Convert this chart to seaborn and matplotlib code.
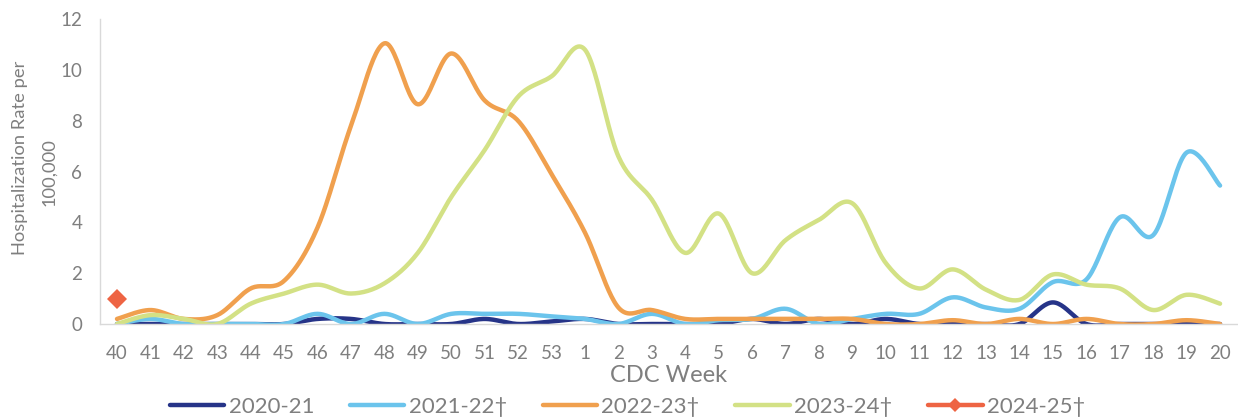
import numpy as np
import pandas as pd
import seaborn as sns
import matplotlib.pyplot as plt
from matplotlib.lines import Line2D

# CDC weeks 40..53, then 1..20
weeks = [str(w) for w in list(range(40, 54)) + list(range(1, 21))]

rate_2020_21 = [0.0, 0.0, 0.0, 0.0, 0.0, 0.0, 0.2, 0.2, 0.0, 0.0, 0.0, 0.2, 0.0, 0.1,
                0.2, 0.0, 0.0, 0.0, 0.0, 0.2, 0.0, 0.2, 0.0, 0.2, 0.0, 0.0, 0.0, 0.0,
                0.85, 0.0, 0.0, 0.0, 0.0, 0.0]
rate_2021_22 = [0.0, 0.2, 0.0, 0.0, 0.0, 0.0, 0.4, 0.0, 0.4, 0.0, 0.4, 0.4, 0.4, 0.3,
                0.2, 0.0, 0.4, 0.0, 0.15, 0.2, 0.6, 0.0, 0.2, 0.4, 0.4, 1.05, 0.65, 0.6,
                1.65, 1.75, 4.2, 3.5, 6.75, 5.45]
rate_2022_23 = [0.2, 0.55, 0.2, 0.35, 1.4, 1.7, 3.8, 7.8, 11.05, 8.65, 10.65, 8.8, 8.0, 5.9,
                3.6, 0.65, 0.55, 0.2, 0.2, 0.2, 0.2, 0.2, 0.2, 0.0, 0.0, 0.15, 0.0, 0.2,
                0.0, 0.2, 0.0, 0.0, 0.15, 0.0]
rate_2023_24 = [0.0, 0.35, 0.2, 0.0, 0.8, 1.2, 1.55, 1.2, 1.6, 2.8, 5.0, 6.85, 8.95, 9.75,
                10.8, 6.6, 4.9, 2.8, 4.35, 2.0, 3.3, 4.1, 4.75, 2.4, 1.4, 2.15, 1.35, 0.95,
                1.95, 1.55, 1.4, 0.55, 1.15, 0.8]
rate_2024_25 = [1.0]

labels = ['2020-21', '2021-22\u2020', '2022-23\u2020', '2023-24\u2020', '2024-25\u2020']
colors = ['#263488', '#6BC4EC', '#F0A04E', '#D3E185', '#EE6443']


def smooth(vals, n=24):
    # Excel-style smoothed line (Catmull-Rom through the data points)
    y = np.asarray(vals, dtype=float)
    x = np.arange(len(y), dtype=float)
    xs, ys = [], []
    for i in range(len(y) - 1):
        i0, i3 = max(i - 1, 0), min(i + 2, len(y) - 1)
        t = np.linspace(0, 1, n, endpoint=False)
        for arr, out in ((x, xs), (y, ys)):
            p0, p1, p2, p3 = arr[i0], arr[i], arr[i + 1], arr[i3]
            c1 = p1 + (p2 - p0) / 6
            c2 = p2 - (p3 - p1) / 6
            out.extend((1 - t) ** 3 * p1 + 3 * (1 - t) ** 2 * t * c1
                       + 3 * (1 - t) * t ** 2 * c2 + t ** 3 * p2)
    xs.append(x[-1])
    ys.append(y[-1])
    return pd.DataFrame({'x': xs, 'y': ys})


sns.set_theme(style='white')
plt.rcParams['font.family'] = ['Lato', 'DejaVu Sans']
grey = '#7F7F7F'

fig = plt.figure(figsize=(12.38, 4.17), dpi=100)
ax = fig.add_axes([0.081, 0.223, 0.918, 0.731])

series = [rate_2020_21, rate_2021_22, rate_2022_23, rate_2023_24]
for vals, color in zip(series, colors[:4]):
    sns.lineplot(data=smooth(vals), x='x', y='y', color=color, lw=3.2,
                 sort=False, estimator=None, ax=ax, legend=False)

sns.lineplot(x=list(range(len(rate_2024_25))), y=rate_2024_25, color=colors[4],
             marker='D', markersize=10, markeredgewidth=0, ax=ax, legend=False)

ax.set_xlim(-0.5, len(weeks) - 0.5)
ax.set_ylim(0, 12)
ax.set_yticks(range(0, 13, 2))
ax.set_xticks(range(len(weeks)))
ax.set_xticklabels(weeks)
ax.set_xticks(np.arange(-0.5, len(weeks)), minor=True)
ax.tick_params(axis='x', which='major', length=0, pad=15, labelsize=13.5, labelcolor=grey)
ax.tick_params(axis='x', which='minor', length=6, width=1, color='#D9D9D9', direction='out')
ax.tick_params(axis='y', length=5, width=1, color='#D9D9D9', direction='out',
               labelsize=13.5, labelcolor=grey, pad=8)
for side in ('top', 'right'):
    ax.spines[side].set_visible(False)
for side in ('left', 'bottom'):
    ax.spines[side].set_color('#D9D9D9')
    ax.spines[side].set_linewidth(1)

ax.set_xlabel('CDC Week', fontsize=17, color=grey, labelpad=2)
ax.set_ylabel('')
# two-line y title, placed like the original
fig.text(20 / 1238, 1 - 158 / 417, 'Hospitalization Rate per', rotation=90,
         ha='center', va='center', fontsize=13.2, color=grey)
fig.text(49 / 1238, 1 - 172 / 417, '100,000', rotation=90,
         ha='center', va='center', fontsize=13.2, color=grey)

handles = [Line2D([], [], color=c, lw=3.2) for c in colors[:4]]
handles.append(Line2D([], [], color=colors[4], lw=3.2, marker='D', markersize=7,
                      markeredgewidth=0))
fig.legend(handles, labels, loc='lower center', bbox_to_anchor=(0.507, -0.047),
           ncol=5, frameon=False, fontsize=16, handlelength=2.45, handletextpad=0.2,
           columnspacing=1.6, labelcolor=grey)

fig.savefig('out.png', dpi=100)
